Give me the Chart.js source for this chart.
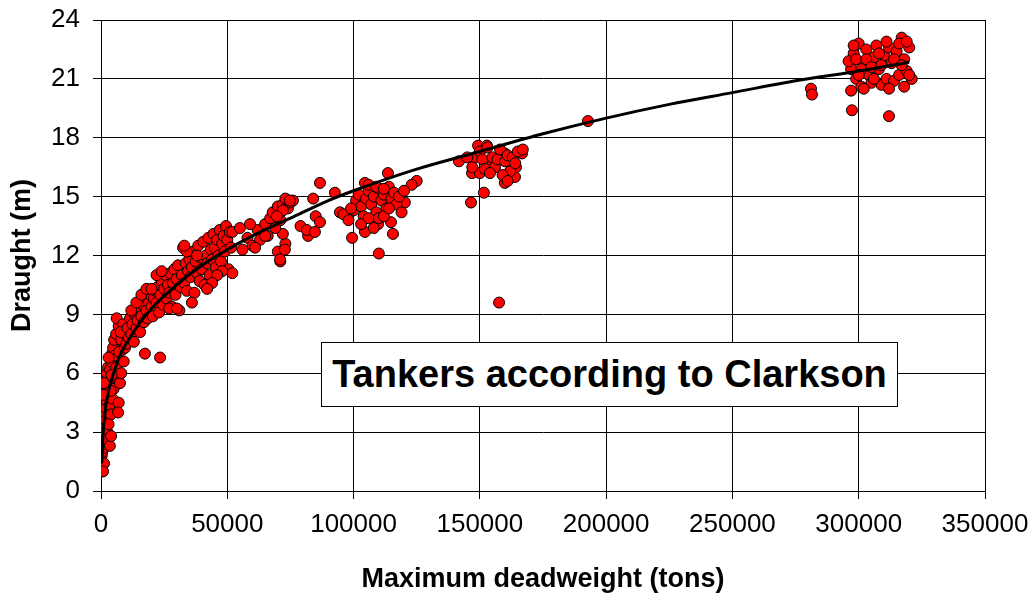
<!DOCTYPE html>
<html>
<head>
<meta charset="utf-8">
<script src="https://cdn.jsdelivr.net/npm/chart.js@4.4.1/dist/chart.umd.min.js"></script>
<style>
  body { margin: 0; background: #fff; }
  #wrap { position: relative; width: 1036px; height: 597px; }
  #label {
    position: absolute; left: 321px; top: 342px; width: 577px; height: 65px;
    box-sizing: border-box; border: 1px solid #000; background: #fff;
    font: bold 38px "Liberation Sans", Arial, sans-serif; color: #000;
    text-align: center; line-height: 63px;
  }
</style>
</head>
<body>
<div id="wrap">
  <canvas id="chart" width="1036" height="597"></canvas>
  <div id="label">Tankers according to Clarkson</div>
</div>
<script>
// fitted trend line
const fitDwt = [300, 700, 1500, 3000, 5000, 7500, 10000, 15000, 20000, 30000, 40000, 50000, 60000, 75000,
  90000, 100000, 125000, 150000, 175000, 200000, 225000, 250000, 275000, 300000, 320000];
const fitDraught = [1.4, 2.6, 3.9, 5.1, 6.0, 6.9, 7.5, 8.5, 9.3, 10.5, 11.5, 12.3, 13.0, 13.9,
  14.8, 15.3, 16.4, 17.3, 18.2, 19.0, 19.7, 20.3, 20.9, 21.4, 21.85];

// ships, [deadweight, draught]
const smallTankers = [[200,1.0],[300,1.2],[400,1.5],[300,1.8],[500,2.0],[400,2.3],[600,2.6],[500,2.9],[700,3.1],
  [600,3.4],[800,3.7],[700,4.0],[900,4.3],[1000,2.2],[1100,2.7],[1200,3.3],[1300,3.8],[1400,4.4],[1500,4.8],
  [1600,3.0],[1800,3.6],[2000,4.2],[2200,4.6],[2400,5.0],[2600,5.4],[1700,5.2],[2000,5.7],[2300,6.0],[2800,6.3],
  [3000,4.9],[3300,5.6],[3600,6.2],[4000,6.6],[4400,7.0],[4800,7.3],[3500,4.4],[4000,3.9],[4500,4.7],[5000,5.2],
  [5500,5.8],[6000,6.3],[6500,6.8],[7000,4.5],[6800,4.0],[7500,5.5],[8000,6.0],[8500,7.2],[9000,6.6],[5200,7.7],
  [6000,8.0],[7000,8.4],[6200,8.8],[8000,7.7],[9500,8.0],[2500,3.0],[3000,3.4],[1200,1.4],[800,1.0],[1500,2.4],
  [2200,2.6],[3800,5.1],[5500,6.9],[7200,7.1],[4200,5.9],[1000,4.9],[1200,5.5],[3000,6.8],[9500,7.3],[8800,8.5],
  [7800,8.1],[3500,2.3],[4000,2.8]];

const handyTankers = [[10000,7.5],[10500,8.3],[11000,7.8],[11500,8.8],[12000,8.0],[12500,8.5],[13000,7.6],[13500,9.0],
  [14000,8.3],[14500,8.7],[15000,9.3],[15500,8.1],[16000,8.9],[16500,9.5],[17000,8.6],[17500,9.9],[18000,9.2],
  [18500,8.8],[19000,9.6],[19500,10.0],[20000,9.4],[20500,8.9],[21000,9.8],[21500,10.2],[22000,9.6],[22500,10.4],
  [23000,9.1],[23500,10.0],[24000,10.7],[24500,9.5],[25000,10.3],[25500,11.0],[26000,9.8],[26500,10.5],[27000,10.1],
  [27500,11.1],[28000,9.4],[28500,10.6],[29000,11.3],[29500,10.0],[30000,10.8],[30500,11.5],[31000,9.2],[31500,10.4],
  [32000,11.0],[32500,12.4],[33000,10.6],[33500,11.6],[34000,10.2],[34500,11.2],[35000,11.8],[35500,10.9],[36000,11.4],
  [36500,12.2],[37000,10.1],[37500,11.7],[38000,11.1],[38500,12.5],[39000,10.7],[39500,11.9],[40000,11.3],[40500,12.7],
  [41000,10.5],[41500,12.0],[42000,11.6],[42500,12.9],[43000,11.0],[43500,12.3],[44000,11.8],[44500,13.1],[45000,12.4],
  [45500,11.4],[46000,12.8],[46500,12.0],[47000,13.3],[47500,11.7],[48000,12.6],[48500,13.0],[49000,12.2],[49500,13.5],
  [50000,12.8],[50500,11.3],[51000,13.2],[51500,12.4],[52000,11.1],[48000,11.2],[46000,11.0],[44000,10.6],[42000,10.3],
  [36000,9.6],[12000,9.2],[14000,9.6],[16000,10.0],[18000,10.3],[17400,7.0],[23400,6.8],[27000,9.3],[30000,9.3],
  [34000,12.2],[38000,12.0],[20000,10.3],[22000,11.0],[24000,11.2],[33000,12.5]];

const panamaxTankers = [[52000,13.2],[55000,13.4],[58000,12.9],[62000,13.3],[65000,13.6],[67000,13.9],[68000,14.2],
  [70000,14.5],[71000,13.8],[72000,14.6],[73000,14.9],[74000,14.4],[75000,14.7],[70000,12.2],[71000,11.7],[73000,12.6],
  [72000,13.1],[69000,13.4],[66000,13.0],[60000,12.5],[63000,12.8],[76000,14.8],[85000,14.0],[82000,13.0],[79000,13.5],
  [86700,15.7],[84000,14.9],[74800,14.8],[72000,14.3],[69600,14.0],[81500,13.3],[84700,13.2],[70900,11.8],[72800,12.3],
  [59000,13.6],[61000,12.4],[65000,13.0],[56000,12.3],[86700,13.7]];

const aframaxTankers = [[92600,15.2],[104500,15.7],[113600,16.2],[125000,15.8],[123000,15.6],[120300,14.7],[94600,14.2],
  [99400,12.9],[110000,12.1],[115600,13.1],[104500,13.2],[109700,13.6],[114800,13.7],[100000,14.3],[101000,14.8],
  [102000,15.1],[103000,14.5],[104000,14.0],[105000,14.9],[106000,15.3],[107000,14.6],[108000,15.0],[109000,14.2],
  [110000,15.4],[111000,14.8],[112000,15.1],[113000,14.4],[114000,15.5],[115000,14.9],[116000,15.2],[117000,14.6],
  [118000,15.0],[120000,15.3],[96000,14.1],[98000,13.8],[99000,14.4],[103000,13.6],[106000,13.9],[108000,13.4],
  [110000,13.9],[112000,14.0],[114000,14.4],[106000,15.6],[109000,15.5],[112000,15.4],[119000,14.2]];

const suezmaxTankers = [[149300,17.6],[152800,17.6],[141700,16.8],[146900,16.2],[150000,16.2],[146500,14.7],[151600,15.2],
  [159900,15.7],[163900,16.0],[166700,17.2],[164300,16.5],[155200,16.7],[159900,17.2],[157600,9.6],[192800,18.85],
  [148000,17.0],[150000,17.3],[151000,16.9],[153000,17.5],[155000,17.0],[156000,16.5],[157000,16.9],[158000,17.4],
  [160000,16.8],[161000,17.1],[162000,16.3],[163000,17.0],[164000,16.7],[165000,17.3],[167000,17.4],[145000,17.0],
  [147000,16.5],[152000,16.4],[154000,16.2],[159000,16.1],[161000,15.8]];

const vlccTankers = [[281100,20.5],[281500,20.2],[297300,19.4],[312000,19.1],[297000,21.5],[298000,22.3],[299000,21.0],
  [300000,22.8],[301000,20.6],[302000,21.8],[303000,22.5],[304000,21.2],[305000,20.8],[306000,22.1],[307000,22.7],
  [308000,21.5],[309000,20.7],[310000,22.2],[311000,21.0],[312000,22.6],[313000,21.8],[314000,20.9],[315000,22.4],
  [316000,21.2],[317000,23.1],[318000,22.0],[319000,21.4],[320000,22.6],[321000,21.0],[296000,21.9],[299000,22.0],
  [301000,21.5],[303000,22.0],[305000,21.6],[308000,22.3],[311000,22.9],[314000,22.0],[316000,22.8],[318000,20.6],
  [320000,21.2],[297000,20.4],[300000,21.2],[306000,21.0],[309000,21.7],[312000,20.5],[317000,21.7],[319000,22.9],
  [302000,20.5],[298000,22.7]];

const xTicks = [0, 50000, 100000, 150000, 200000, 250000, 300000, 350000];
const yTicks = [0, 3, 6, 9, 12, 15, 18, 21, 24];

const FONT = '"Liberation Sans", Arial, sans-serif';

const ships = [].concat(smallTankers, handyTankers, panamaxTankers, aframaxTankers, suezmaxTankers, vlccTankers)
  .map(p => ({x: p[0], y: p[1]}));
const fit = fitDwt.map((d, i) => ({x: d, y: fitDraught[i]}));

new Chart(document.getElementById("chart"), {
  type: 'scatter',
  data: {
    datasets: [{
      // first dataset is drawn on top
      type: 'line',
      data: fit,
      borderColor: '#000',
      borderWidth: 3,
      pointRadius: 0,
      fill: false,
      cubicInterpolationMode: 'monotone'
    }, {
      data: ships,
      pointRadius: 5.5,
      pointBackgroundColor: '#ff0000',
      pointBorderColor: '#000',
      pointBorderWidth: 1
    }]
  },
  options: {
    responsive: false,
    animation: false,
    layout: { padding: { top: 20, right: 51, left: 0, bottom: 0 } },
    plugins: { legend: { display: false }, tooltip: { enabled: false } },
    scales: {
      x: {
        type: 'linear', min: 0, max: 350000,
        afterBuildTicks: s => { s.ticks = xTicks.map(v => ({value: v})); },
        afterFit: s => { s.height = 106; s.paddingLeft = 0; s.paddingRight = 0; },
        ticks: { font: { family: FONT, size: 26 }, color: '#000', padding: 10, maxRotation: 0,
          callback: v => String(v) },
        grid: { color: '#000', lineWidth: 1, tickLength: 8 },
        border: { color: '#000', width: 1 },
        title: { display: true, text: 'Maximum deadweight (tons)', color: '#000',
          font: { family: FONT, size: 27, weight: 'bold' }, padding: { top: 0, bottom: 1 } }
      },
      y: {
        min: 0, max: 24,
        afterBuildTicks: s => { s.ticks = yTicks.map(v => ({value: v})); },
        afterFit: s => { s.width = 101; s.paddingTop = 0; s.paddingBottom = 0; },
        ticks: { font: { family: FONT, size: 26 }, color: '#000', padding: 13 },
        grid: { color: '#000', lineWidth: 1, tickLength: 8 },
        border: { color: '#000', width: 1 },
        title: { display: true, text: 'Draught (m)', color: '#000',
          font: { family: FONT, size: 27, weight: 'bold' }, padding: { top: 6, bottom: 0 } }
      }
    }
  }
});
</script>
</body>
</html>
